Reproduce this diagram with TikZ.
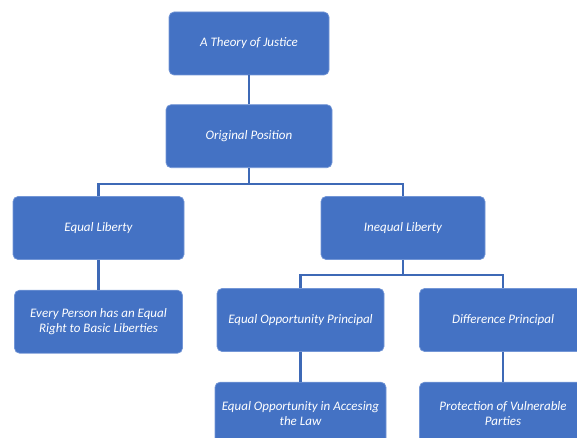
\documentclass[tikz,border=0pt]{standalone}
\usepackage{fontspec}
\setmainfont{Carlito}
\usepackage{xcolor}
\usetikzlibrary{positioning}
\definecolor{boxblue}{HTML}{4472C4}
\definecolor{edgeblue}{HTML}{7396D6}
\definecolor{lnblue}{HTML}{3E69B6}
\begin{document}
\begin{tikzpicture}[x=1pt, y=-1pt,
    b/.style={draw=edgeblue, line width=0.7pt, fill=boxblue, rounded corners=5pt,
      minimum width=166pt, minimum height=63pt, align=center, text=white,
      font=\itshape\fontsize{13}{15}\selectfont},
    ln/.style={draw=lnblue, line width=2.2pt}]
        \useasboundingbox (0,0) rectangle (577,438);
        \clip (0,0) rectangle (577,438);

        \draw node[b, minimum width=160pt] (t) at (249,43.5) {A Theory of Justice};
        \draw node[b, below=29pt of t] (o) {Original Position};

        \draw node[b, minimum width=171pt] (eq) at (98.5,228) {Equal Liberty};
        \draw node[b, minimum width=164pt] (ineq) at (403,228) {Inequal Liberty};

        \draw node[b, minimum width=168pt, below=30pt of eq] (every) {Every Person has an Equal\\Right to Basic Liberties};
        \draw node[b, minimum width=167pt] (eop) at (300.5,320) {Equal Opportunity Principal};
        \draw node[b, minimum width=167pt] (diff) at (503,320) {Difference Principal};

        \draw node[b, minimum width=171pt, below=30pt of eop] (acc) {Equal Opportunity in Accesing\\the Law};
        \draw node[b, minimum width=167pt, below=30pt of diff] (prot) {Protection of Vulnerable\\Parties};

        \draw[ln] (t) -- (o);
        \foreach \x in {eq, ineq}
        \draw[ln] (o.south) -- ++(0,16) -| (\x.north);
        \draw[ln] (eq.south) -- (every.north);
        \foreach \x in {eop, diff}
        \draw[ln] (ineq.south) -- ++(0,15) -| (\x.north);
        \draw[ln] (eop) -- (acc);
        \draw[ln] (diff) -- (prot);
      \end{tikzpicture}
\end{document}
